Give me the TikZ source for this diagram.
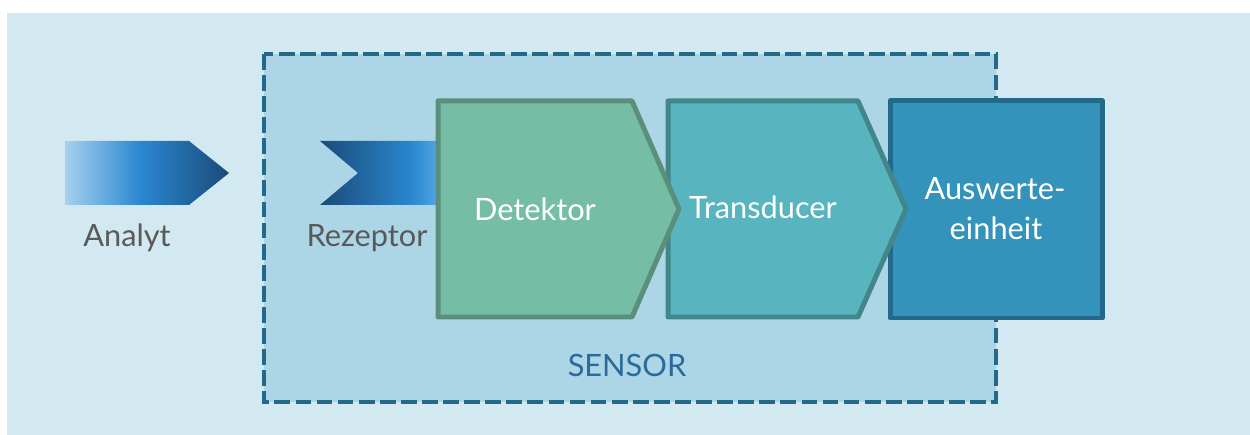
\documentclass[tikz,border=0pt]{standalone}
\usepackage{fontspec}
\setmainfont{Lato}
\usetikzlibrary{arrows.meta}

\definecolor{bgblue}{HTML}{D3E9F2}
\definecolor{sensorfill}{HTML}{ACD5E6}
\definecolor{sensorline}{HTML}{236A8A}
\definecolor{detfill}{HTML}{76BDA6}
\definecolor{detline}{HTML}{5A8F7C}
\definecolor{transfill}{HTML}{58B4BF}
\definecolor{transline}{HTML}{418689}
\definecolor{auswfill}{HTML}{3493BA}
\definecolor{auswline}{HTML}{22698B}
\definecolor{lightblue}{HTML}{A6D0EF}
\definecolor{midblue}{HTML}{2A87D0}
\definecolor{deepblue}{HTML}{1A4B78}
\definecolor{paleblue}{HTML}{50A4E3}
\definecolor{labelgray}{HTML}{595959}
\definecolor{sensortext}{HTML}{2A6A9A}

\pgfdeclarehorizontalshading{analytshade}{100bp}{color(0bp)=(lightblue); color(25bp)=(lightblue);
  color(48bp)=(midblue); color(75bp)=(deepblue); color(100bp)=(deepblue)}
\pgfdeclarehorizontalshading{rezeptorshade}{100bp}{color(0bp)=(deepblue); color(25bp)=(deepblue);
  color(64bp)=(midblue); color(75bp)=(paleblue); color(100bp)=(paleblue)}

\begin{document}
\begin{tikzpicture}[x=0.02cm,y=-0.02cm]
\useasboundingbox (0,0) rectangle (1250,435);
\fill[bgblue] (7,13) rectangle (1250,435);
% sensor frame
\draw[sensorline,fill=sensorfill,line width=0.08cm,dash pattern=on 9pt off 3pt]
    (264,54) rectangle (996,402);
% the two chevrons
\path[shading=analytshade,shading angle=0]
    (65,141) -- (189,141) -- (229,173) -- (189,205) -- (65,205) -- cycle;
\path[shading=rezeptorshade,shading angle=0]
    (320,141) -- (437,141) -- (437,205) -- (320,205) -- (358,173) -- cycle;
% blocks, back to front
\begin{scope}[line width=0.1cm,line join=round]
    \draw[auswline,fill=auswfill] (890,101) rectangle (1102,318);
    \draw[transline,fill=transfill]
        (668,101) -- (858,101) -- (906,209) -- (858,317) -- (668,317) -- cycle;
    \draw[detline,fill=detfill]
        (438,101) -- (632,101) -- (679,209) -- (632,317) -- (438,317) -- cycle;
\end{scope}
\begin{scope}[every node/.style={anchor=base,inner sep=0pt,font=\fontsize{17.5}{21}\selectfont}]
    \node[labelgray] (analyt) at (127,247) {Analyt};
    \node[labelgray] (rezeptor) at (367,247) {Rezeptor};
    \node[white] (detektor) at (535,221) {Detektor};
    \node[white] (transducer) at (763,219) {Transducer};
    \node[white] (auswerte) at (995,200) {Auswerte-};
    \node[white] (einheit) at (996,240) {einheit};
    \node[sensortext] (sensor) at (627,377) {SENSOR};
\end{scope}
\end{tikzpicture}
\end{document}
